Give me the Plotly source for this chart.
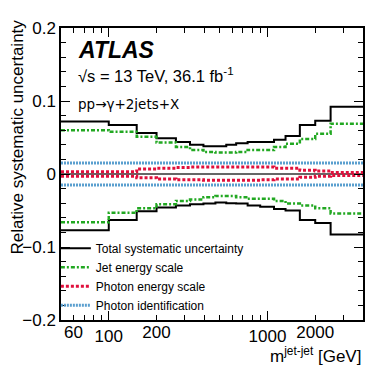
import plotly.graph_objects as go

# bin edges in m(jet-jet) [GeV]
edges = [50, 100, 150, 200, 265, 325, 395, 470, 550, 635, 750, 900, 1100, 1300, 1600, 2000, 2500, 4000]

total_up = [0.072, 0.067, 0.056, 0.049, 0.044, 0.040, 0.038, 0.038, 0.040, 0.042, 0.044, 0.044,
            0.047, 0.052, 0.067, 0.073, 0.092]
total_down = [-0.077, -0.063, -0.051, -0.046, -0.043, -0.0415, -0.0405, -0.039, -0.040, -0.0405,
              -0.043, -0.045, -0.048, -0.050, -0.063, -0.067, -0.083]
jes_up = [0.060, 0.058, 0.051, 0.043, 0.037, 0.033, 0.030, 0.0295, 0.0295, 0.030, 0.033, 0.033,
          0.037, 0.0415, 0.048, 0.055, 0.069]
jes_down = [-0.066, -0.053, -0.047, -0.0415, -0.037, -0.035, -0.032, -0.030, -0.030, -0.0317,
            -0.034, -0.034, -0.037, -0.0405, -0.043, -0.047, -0.054]
pes_up = [0.003, 0.003, 0.007, 0.008, 0.009, 0.0095, 0.0095, 0.0095, 0.0095, 0.0095, 0.0095,
          0.0095, 0.008, 0.008, 0.005, 0.004, 0.002]
pes_down = [-0.003, -0.003, -0.005, -0.007, -0.008, -0.008, -0.0085, -0.0085, -0.0085, -0.0085,
            -0.0085, -0.008, -0.007, -0.007, -0.0045, -0.003, -0.002]
pid_up = [0.015] * 17
pid_down = [-0.015] * 17

FONT = "Liberation Sans, Arial, Helvetica, sans-serif"

components = [
    ("Total systematic uncertainty", total_up, total_down, dict(color="black", width=2)),
    ("Jet energy scale", jes_up, jes_down, dict(color="#22a822", width=2.5, dash="4px,2px,2px,2px")),
    ("Photon energy scale", pes_up, pes_down, dict(color="#e0103c", width=3, dash="3px,2px")),
    ("Photon identification", pid_up, pid_down, dict(color="#5a9fcf", width=3, dash="2px,1px")),
]

fig = go.Figure()
for name, up, down, line in components:
    for i, vals in enumerate([up, down]):
        fig.add_trace(
            go.Scatter(
                x=edges,
                y=vals + [vals[-1]],
                mode="lines",
                line_shape="hv",
                line=line,
                name=name,
                legendgroup=name,
                showlegend=(i == 0),
                xaxis="x",
                yaxis="y",
            )
        )

# labels-only axis for 60 / 200 / 2000
fig.add_trace(go.Scatter(x=[60], y=[None], xaxis="x2", showlegend=False, hoverinfo="skip"))

xr = [1.69897, 3.60206]
# page body has an 8px margin, so the figure is 8px smaller and margins shifted
fig.update_layout(
    width=374,
    height=374,
    margin=dict(l=53, r=19, t=11, b=62),
    plot_bgcolor="white",
    paper_bgcolor="white",
    font=dict(family=FONT, size=17, color="black"),
    xaxis=dict(
        type="log", range=xr, showgrid=False, showline=True, linecolor="black", linewidth=1.5,
        mirror="ticks", ticks="inside", ticklen=9, tickwidth=1.2, tickcolor="black",
        tickvals=[100, 1000], ticktext=["100", "1000"],
        minor=dict(ticks="inside", ticklen=5, tickwidth=1.2, tickcolor="black",
                   tickvals=[50, 60, 70, 80, 90, 200, 300, 400, 500, 600, 700, 800, 900, 2000, 3000, 4000]),
        zeroline=False,
    ),
    xaxis2=dict(
        type="log", range=xr, overlaying="x", anchor="y", side="bottom", showgrid=False,
        showline=False, ticks="inside", ticklen=9, tickcolor="rgba(0,0,0,0)",
        tickvals=[60, 200, 2000], ticktext=["60", "200", "2000"],
        zeroline=False,
    ),
    yaxis=dict(
        range=[-0.2, 0.2], showgrid=False, showline=True, linecolor="black", linewidth=1.5,
        mirror="ticks", ticks="inside", ticklen=9, tickwidth=1.2, tickcolor="black",
        tickvals=[-0.2, -0.1, 0, 0.1, 0.2], ticktext=["\u22120.2", "\u22120.1", "0", "0.1", "0.2"],
        minor=dict(ticks="inside", ticklen=5, tickwidth=1.2, tickcolor="black", dtick=0.02),
        zeroline=True, zerolinecolor="#666666", zerolinewidth=2,
    ),
    legend=dict(
        x=-0.017, y=0.295, xanchor="left", yanchor="top", bgcolor="rgba(0,0,0,0)",
        font=dict(family=FONT, size=12), tracegroupgap=0,
    ),
    annotations=[
        dict(text="<b><i>ATLAS</i></b>", xref="paper", yref="paper", x=0.05, y=0.925,
             xanchor="left", yanchor="middle", showarrow=False, font=dict(size=23)),
        dict(text="\u221as = 13 TeV, 36.1 fb<sup>-1</sup>", xref="paper", yref="paper", x=0.05,
             y=0.84, xanchor="left", yanchor="middle", showarrow=False, font=dict(size=16.5)),
        dict(text="pp\u2192\u03b3+2jets+X", xref="paper", yref="paper", x=0.05, y=0.74,
             xanchor="left", yanchor="middle", showarrow=False,
             font=dict(family="DejaVu Sans, Liberation Sans, sans-serif", size=13.5)),
        dict(text="Relative systematic uncertainty", xref="paper", yref="paper", x=-0.145, y=1.035,
             xanchor="center", yanchor="top", textangle=-90, showarrow=False, font=dict(size=17)),
        dict(text="m<sup>jet-jet</sup> [GeV]", xref="paper", yref="paper", x=1.0, y=-0.165,
             xanchor="right", yanchor="bottom", showarrow=False, font=dict(size=17)),
    ],
)

fig.write_html("out.html")
